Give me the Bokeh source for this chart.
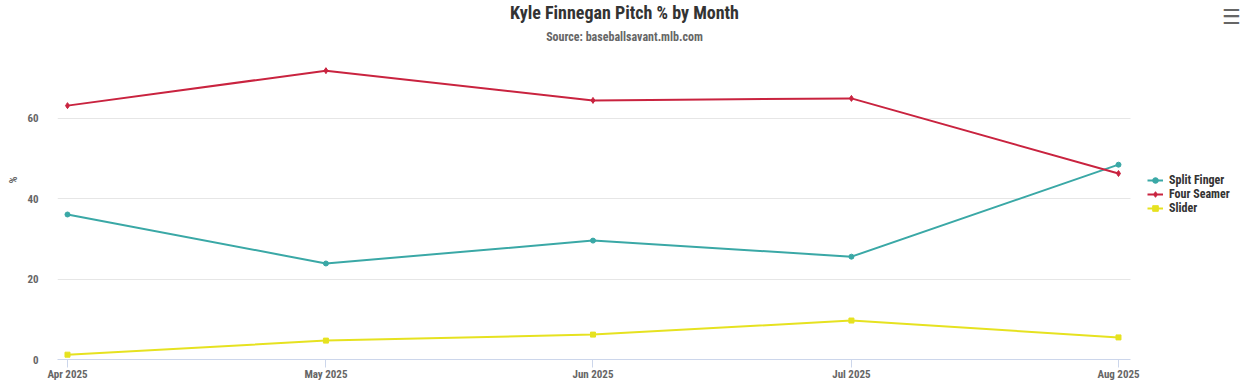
from datetime import datetime, timedelta
from bokeh.plotting import figure
from bokeh.models import (Range1d, DatetimeTickFormatter, FixedTicker, Legend, LegendItem,
                          Label, ColumnDataSource)
from bokeh.embed import file_html
from bokeh.resources import INLINE

months = ["2025-04-01", "2025-05-01", "2025-06-01", "2025-07-01", "2025-08-01"]
split_finger = [36.1, 23.9, 29.6, 25.6, 48.5]
four_seamer = [63.2, 71.9, 64.5, 65.0, 46.3]
slider = [1.2, 4.7, 6.2, 9.7, 5.5]
y_ticks = [0, 20, 40, 60]

FONT = "'Liberation Sans Narrow', 'Roboto Condensed', Roboto"
dates = [datetime.strptime(m, "%Y-%m-%d") for m in months]
EPOCH = datetime(1970, 1, 1)


def ms(d):
    return (d - EPOCH).total_seconds() * 1000.0


x0 = dates[0] - timedelta(days=1.16)
x_plot_end = dates[-1] + timedelta(days=1.39)
x1 = dates[-1] + timedelta(days=15.44)

W, H = 1251, 385
p = figure(width=W, height=H, output_backend="svg", toolbar_location=None,
           x_axis_type="datetime", x_range=Range1d(x0, x1), y_range=Range1d(0, 89.37),
           min_border_left=57, min_border_top=0, min_border_right=0, min_border_bottom=26)
p.outline_line_color = None
p.background_fill_color = "white"
p.border_fill_color = "white"

series = [
    ("Split Finger", split_finger, "#3aa8a6", "circle", 5),
    ("Four Seamer", four_seamer, "#c9233f", "diamond", 6),
    ("Slider", slider, "#e6e220", "square", 5),
]
items = []
for name, vals, col, mk, sz in series:
    src = ColumnDataSource(dict(x=dates, y=vals))
    r1 = p.line("x", "y", source=src, line_color=col, line_width=2)
    r2 = p.scatter("x", "y", source=src, marker=mk, size=sz,
                   fill_color=col, line_color=col)
    items.append(LegendItem(label=name, renderers=[r1, r2]))

legend = Legend(items=items, location=(1090, 144), border_line_color=None,
                background_fill_alpha=0, label_text_font=FONT, label_text_font_style="bold",
                label_text_font_size="12px", label_text_color="#333333",
                glyph_width=16, glyph_height=14, spacing=0, label_height=14,
                label_standoff=6, padding=4, margin=0)
p.add_layout(legend)

# x axis
p.xaxis.ticker = FixedTicker(ticks=[ms(d) for d in dates])
p.xaxis.formatter = DatetimeTickFormatter(days="%b %Y", months="%b %Y")
p.xaxis.bounds = (ms(x0), ms(x_plot_end))
p.xaxis.axis_line_color = "#ccd6eb"
p.xaxis.major_tick_line_color = "#ccd6eb"
p.xaxis.major_tick_in = 0
p.xaxis.major_tick_out = 8
p.xaxis.minor_tick_line_color = None
p.xaxis.major_label_text_font = FONT
p.xaxis.major_label_text_font_style = "bold"
p.xaxis.major_label_text_font_size = "11px"
p.xaxis.major_label_text_color = "#666666"
p.xaxis.major_label_standoff = 0
p.xgrid.grid_line_color = None

# y axis
p.yaxis.ticker = FixedTicker(ticks=y_ticks)
p.yaxis.axis_line_color = None
p.yaxis.major_tick_line_color = None
p.yaxis.minor_tick_line_color = None
p.yaxis.major_label_text_font = FONT
p.yaxis.major_label_text_font_style = "bold"
p.yaxis.major_label_text_font_size = "11px"
p.yaxis.major_label_text_color = "#666666"
p.yaxis.major_label_standoff = 13
p.yaxis.axis_label = "%"
p.yaxis.axis_label_text_font = FONT
p.yaxis.axis_label_text_font_style = "bold"
p.yaxis.axis_label_text_font_size = "11px"
p.yaxis.axis_label_text_color = "#666666"
p.yaxis.axis_label_standoff = 4
p.ygrid.grid_line_color = "#e6e6e6"
p.ygrid.ticker = FixedTicker(ticks=y_ticks[1:])
p.ygrid.cross_bounds = (ms(x0), ms(x_plot_end))

# titles (positions relative to the plot frame)
FL, FB = 57, 359
p.add_layout(Label(x=624 - FL, y=FB - 12, x_units="screen", y_units="screen",
                   text="Kyle Finnegan Pitch % by Month", text_font=FONT,
                   text_font_style="bold", text_font_size="18px", text_color="#333333",
                   text_align="center", text_baseline="middle"))
p.add_layout(Label(x=624 - FL, y=FB - 36, x_units="screen", y_units="screen",
                   text="Source: baseballsavant.mlb.com", text_font=FONT,
                   text_font_style="bold", text_font_size="12px", text_color="#666666",
                   text_align="center", text_baseline="middle"))
p.add_layout(Label(x=1231 - FL, y=FB - 16, x_units="screen", y_units="screen",
                   text="\u2630", text_font="DejaVu Sans", text_font_style="bold",
                   text_font_size="21px", text_color="#666666",
                   text_align="center", text_baseline="middle"))

open("out.html", "w").write(file_html(p, INLINE))
